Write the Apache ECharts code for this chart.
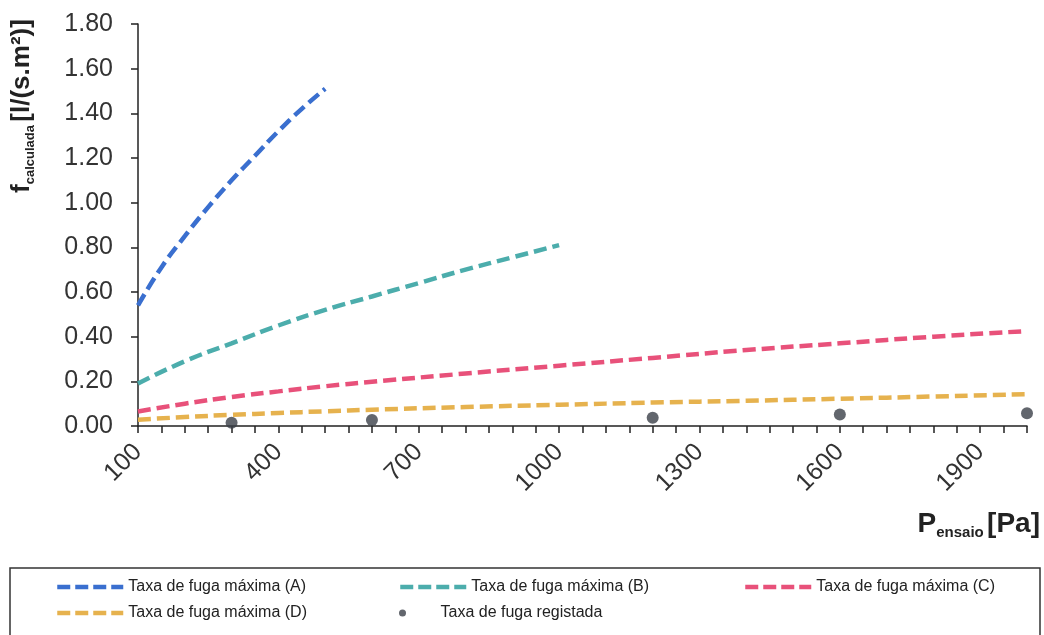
<!DOCTYPE html>
<html lang="pt">
<head>
<meta charset="utf-8">
<title>Taxa de fuga</title>
<script src="https://cdn.jsdelivr.net/npm/echarts@6/dist/echarts.min.js"></script>
<style>
  html, body { margin: 0; padding: 0; background: #fff; }
  #chart { width: 1044px; height: 635px; }
</style>
</head>
<body>
<div id="chart"></div>
<script>
// pressure values (Pa) and leakage rates
const pressA = [100, 150, 200, 250, 300, 350, 400, 450, 500];
const fugaA  = [0.54, 0.71, 0.85, 0.98, 1.10, 1.21, 1.32, 1.42, 1.51];

const pressB = [100, 200, 300, 400, 500, 600, 700, 800, 900, 1000];
const fugaB  = [0.19, 0.29, 0.37, 0.45, 0.52, 0.58, 0.64, 0.70, 0.755, 0.81];

const pressCD = [100, 200, 300, 400, 500, 600, 800, 1000, 1200, 1400, 1600, 1800, 2000];
const fugaC  = [0.065, 0.10, 0.13, 0.155, 0.178, 0.198, 0.235, 0.27, 0.305, 0.34, 0.37, 0.40, 0.425];
const fugaD  = [0.028, 0.04, 0.05, 0.058, 0.066, 0.073, 0.085, 0.095, 0.105, 0.113, 0.122, 0.132, 0.143];

const pressReg = [300, 600, 1200, 1600, 2000];
const fugaReg  = [0.015, 0.027, 0.037, 0.052, 0.057];

const names = [
  'Taxa de fuga máxima (A)',
  'Taxa de fuga máxima (B)',
  'Taxa de fuga máxima (C)',
  'Taxa de fuga máxima (D)',
  'Taxa de fuga registada'
];
const colors = ['#3a6fcf', '#4cadac', '#e8517a', '#e6b24e', '#3b4049'];

function pairs(xs, ys) {
  return xs.map((x, i) => [x, ys[i]]);
}

function dashed(name, color, data) {
  return {
    name: name,
    type: 'line',
    data: data,
    smooth: true,
    symbol: 'none',
    lineStyle: { color: color, width: 4.5, type: [13, 6], cap: 'butt' },
    itemStyle: { color: color }
  };
}

const FONT = 'Liberation Sans';

function legendAt(name, left, top, isLine) {
  var lg = {
    data: [name],
    left: left,
    top: top,
    orient: 'vertical',
    itemWidth: 66,
    itemHeight: isLine ? 14 : 7,
    padding: 0,
    selectedMode: false,
    textStyle: { fontFamily: FONT, fontSize: 16, color: '#222' }
  };
  if (isLine) {
    // dashed line only, no marker in the key
    lg.lineStyle = { width: 4.5, type: [13, 5], cap: 'butt' };
    lg.itemStyle = { opacity: 0 };
  }
  return lg;
}

var chart = echarts.init(document.getElementById('chart'));
chart.setOption({
  animation: false,
  backgroundColor: '#fff',
  grid: { left: 138, right: 17, top: 24, bottom: 209 },
  xAxis: {
    type: 'value',
    min: 100,
    max: 2000,
    interval: 50,
    axisLine: { lineStyle: { color: '#222', width: 1.5 } },
    axisTick: { show: true, length: 7, lineStyle: { color: '#222', width: 1.5 } },
    splitLine: { show: false },
    axisLabel: {
      rotate: 45,
      margin: 22,
      fontFamily: FONT,
      fontSize: 25,
      color: '#333',
      formatter: function (v) {
        return (v - 100) % 300 === 0 ? String(v) : '';
      }
    }
  },
  yAxis: {
    type: 'value',
    min: 0,
    max: 1.8,
    interval: 0.2,
    axisLine: { show: true, lineStyle: { color: '#222', width: 1.5 } },
    axisTick: { show: true, length: 7, lineStyle: { color: '#222', width: 1.5 } },
    splitLine: { show: false },
    axisLabel: {
      margin: 25,
      fontFamily: FONT,
      fontSize: 25,
      color: '#333',
      formatter: function (v) { return v.toFixed(2); }
    }
  },
  legend: [
    legendAt(names[0], 55, 579, true),
    legendAt(names[3], 55, 605, true),
    legendAt(names[1], 398, 579, true),
    legendAt(names[4], 399, 605, false),
    legendAt(names[2], 743, 579, true)
  ],
  graphic: [
    {
      type: 'rect',
      silent: true,
      shape: { x: 10, y: 568, width: 1030, height: 80 },
      style: { fill: 'none', stroke: '#333', lineWidth: 1.5 }
    },
    {
      type: 'text',
      x: 22,
      y: 106,
      rotation: Math.PI / 2,
      style: {
        text: '{b|f}{s|calculada} {b|[l/(s.m²)]}',
        align: 'center',
        verticalAlign: 'middle',
        fill: '#222',
        rich: {
          b: { fontFamily: FONT, fontWeight: 'bold', fontSize: 26, lineHeight: 30, verticalAlign: 'middle', fill: '#222' },
          s: { fontFamily: FONT, fontWeight: 'bold', fontSize: 13, lineHeight: 6, verticalAlign: 'bottom', fill: '#222' }
        }
      }
    },
    {
      type: 'text',
      x: 1040,
      y: 524,
      style: {
        text: '{b|P}{s|ensaio} {b|[Pa]}',
        align: 'right',
        verticalAlign: 'middle',
        fill: '#222',
        rich: {
          b: { fontFamily: FONT, fontWeight: 'bold', fontSize: 28, lineHeight: 32, verticalAlign: 'middle', fill: '#222' },
          s: { fontFamily: FONT, fontWeight: 'bold', fontSize: 15, lineHeight: 6, verticalAlign: 'bottom', fill: '#222' }
        }
      }
    }
  ],
  series: [
    dashed(names[0], colors[0], pairs(pressA, fugaA)),
    dashed(names[1], colors[1], pairs(pressB, fugaB)),
    dashed(names[2], colors[2], pairs(pressCD, fugaC)),
    dashed(names[3], colors[3], pairs(pressCD, fugaD)),
    {
      name: names[4],
      type: 'scatter',
      data: pairs(pressReg, fugaReg),
      symbol: 'circle',
      symbolSize: 12,
      itemStyle: { color: colors[4] }
    }
  ]
});
</script>
</body>
</html>
